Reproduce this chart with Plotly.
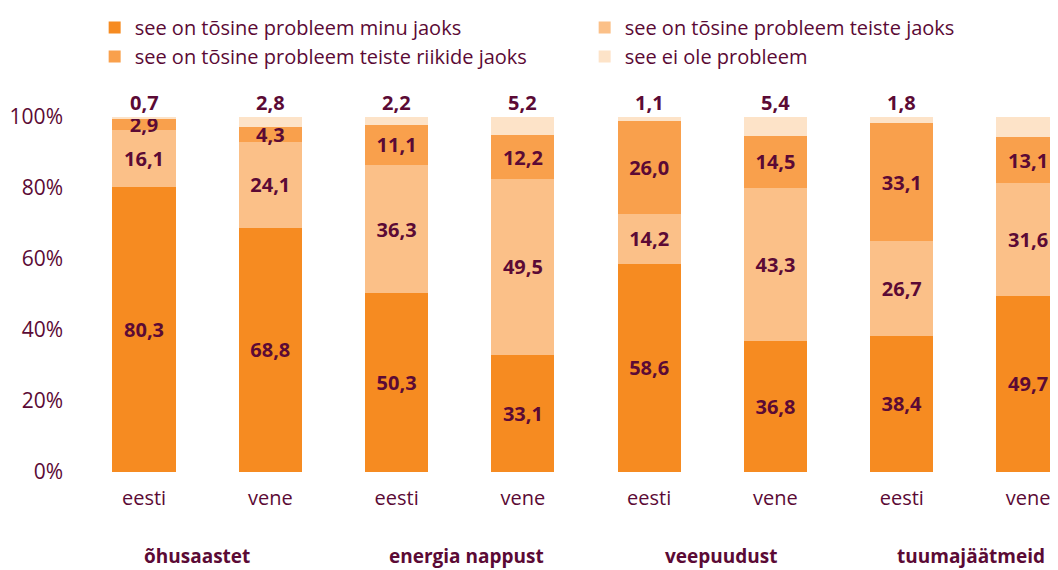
import plotly.graph_objects as go

# categories
keeled = ["eesti", "vene", "eesti", "vene", "eesti", "vene", "eesti", "vene"]
teemad = ["õhusaastet", "energia nappust", "veepuudust", "tuumajäätmeid"]

# series values (%)
minu = [80.3, 68.8, 50.3, 33.1, 58.6, 36.8, 38.4, 49.7]
teiste = [16.1, 24.1, 36.3, 49.5, 14.2, 43.3, 26.7, 31.6]
riikide = [2.9, 4.3, 11.1, 12.2, 26.0, 14.5, 33.1, 13.1]
ei_ole = [0.7, 2.8, 2.2, 5.2, 1.1, 5.4, 1.8, 5.7]

nimed = [
    "see on tõsine probleem minu jaoks",
    "see on tõsine probleem teiste jaoks",
    "see on tõsine probleem teiste riikide jaoks",
    "see ei ole probleem",
]
varvid = ["#F68B21", "#FBC088", "#F9A04C", "#FDE3C8"]
# two legend columns, like in the original
legendid = ["legend", "legend2", "legend", "legend2"]
y_ticks = [0, 20, 40, 60, 80, 100]
# horizontal nudge of the group titles (not quite centred in the original)
teema_nihe = [0.42, 0.55, 0.57, 0.55]

TEXT = "#5B0A35"
FONT = "Open Sans"


def fmt(v):
    return f"{v:.1f}".replace(".", ",")


x = list(range(len(keeled)))
series = [minu, teiste, riikide, ei_ole]
fig = go.Figure()
for i, vals in enumerate(series):
    top = i == 3
    fig.add_trace(go.Bar(
        x=x, y=vals, name=nimed[i], marker_color=varvid[i], marker_line_width=0,
        width=0.5, legend=legendid[i],
        text=None if top else [fmt(v) for v in vals],
        textposition="inside",
        insidetextanchor="middle",
        constraintext="none",
        cliponaxis=False,
        textfont=dict(family=FONT, size=20, color=TEXT, weight="bold"),
    ))

# "ei ole probleem" values sit above the bars
for j in x:
    total = sum(s[j] for s in series)
    fig.add_annotation(x=j, y=total, xref="x", yref="y", text=f"<b>{fmt(ei_ole[j])}</b>",
                       showarrow=False, yanchor="middle", yshift=15,
                       font=dict(family=FONT, size=20, color=TEXT))

# group labels under each pair of bars
for k, t in enumerate(teemad):
    fig.add_annotation(x=2 * k + teema_nihe[k], y=-0.236, xref="x", yref="paper",
                       yanchor="middle",
                       text=f"<b>{t}</b>", showarrow=False,
                       font=dict(family=FONT, size=19, color=TEXT))

leg = dict(orientation="v", yanchor="middle", y=1.211, xanchor="left",
           font=dict(size=20, color=TEXT), bgcolor="rgba(0,0,0,0)",
           traceorder="normal")
fig.update_layout(
    barmode="stack",
    width=1050, height=562,
    margin=dict(l=70, r=0, t=104, b=98),
    plot_bgcolor="white", paper_bgcolor="white",
    font=dict(family=FONT, color=TEXT),
    uniformtext=dict(minsize=20, mode="show"),
    legend=dict(leg, x=0.017),
    legend2=dict(leg, x=0.517),
    showlegend=True,
)
fig.update_xaxes(tickvals=x, ticktext=keeled, range=[-0.5226, 7.237],
                 showgrid=False, zeroline=False, showline=False, ticks="",
                 automargin=False, ticklabelstandoff=12,
                 tickfont=dict(size=20, color=TEXT))
fig.update_yaxes(range=[0, 100], tickvals=y_ticks,
                 ticktext=[f"{v}%" for v in y_ticks],
                 showgrid=False, zeroline=False, showline=False, ticks="",
                 automargin=False, ticklabelstandoff=14,
                 tickfont=dict(size=21, color=TEXT))

fig.write_html("out.html")
